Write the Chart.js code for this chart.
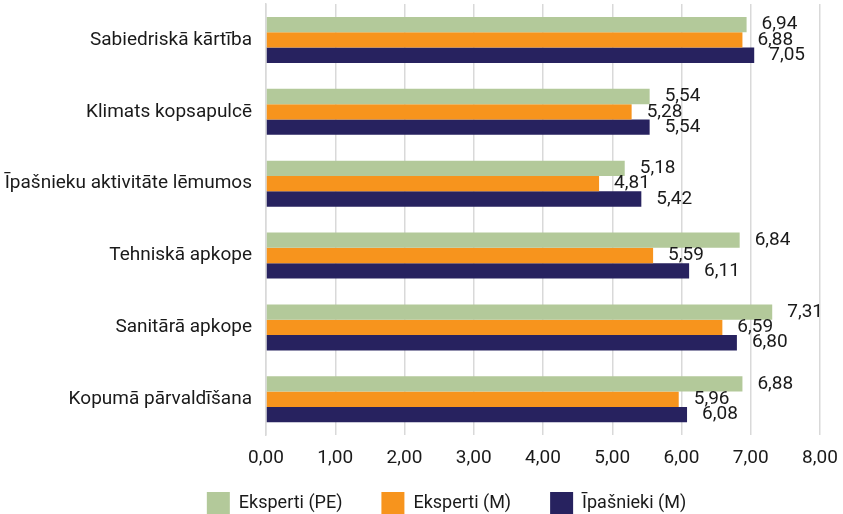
<!DOCTYPE html>
<html>
<head>
<meta charset="utf-8">
<script src="https://cdn.jsdelivr.net/npm/chart.js@4"></script>
<style>
  html, body { margin: 0; padding: 0; background: #fff; }
  #wrap { width: 843px; height: 514px; }
</style>
</head>
<body>
<div id="wrap"><canvas id="chart"></canvas></div>
<script>
const categories = [
  "Sabiedriskā kārtība",
  "Klimats kopsapulcē",
  "Īpašnieku aktivitāte lēmumos",
  "Tehniskā apkope",
  "Sanitārā apkope",
  "Kopumā pārvaldīšana"
];
const seriesNames = ["Eksperti (PE)", "Eksperti (M)", "Īpašnieki (M)"];
const expertsPE = [6.94, 5.54, 5.18, 6.84, 7.31, 6.88];
const expertsM = [6.88, 5.28, 4.81, 5.59, 6.59, 5.96];
const ownersM = [7.05, 5.54, 5.42, 6.11, 6.80, 6.08];
const colors = ["#b3c99a", "#f7941d", "#27225f"];
const xTicks = [0, 1, 2, 3, 4, 5, 6, 7, 8];

const fmt = v => v.toFixed(2).replace(".", ",");
const FONT = "Roboto";
const SIZE = 19;
const TEXT = "#1a1a1a";

const tweaks = {
  id: "tweaks",
  beforeLayout(chart) {
    // legend: wide spacing between items but a compact height
    const lg = chart.legend;
    if (lg && !lg._fixed) {
      const fit = lg.fit;
      lg.fit = function () { fit.call(this); this.height = 32; };
      lg._fixed = true;
    }
  },
  afterLayout(chart) {
    // let the legend box reach up so the row sits 23px above the bottom,
    // and nudge it a bit to the right like the original
    const lg = chart.legend;
    lg.top = lg.bottom - 61;
    lg.height = 61;
    lg.left += 25;
    lg.right += 25;
  },
  // value labels to the right of each bar
  afterDatasetsDraw(chart) {
    const ctx = chart.ctx;
    ctx.save();
    ctx.font = SIZE + "px " + FONT;
    ctx.fillStyle = TEXT;
    ctx.textAlign = "left";
    ctx.textBaseline = "middle";
    chart.data.datasets.forEach((ds, i) => {
      chart.getDatasetMeta(i).data.forEach((bar, j) => {
        ctx.fillText(fmt(ds.data[j]), bar.x + 15, bar.y);
      });
    });
    ctx.restore();
  }
};

new Chart(document.getElementById("chart"), {
  type: "bar",
  data: {
    labels: categories,
    datasets: [
      { label: seriesNames[0], data: expertsPE, backgroundColor: colors[0] },
      { label: seriesNames[1], data: expertsM, backgroundColor: colors[1] },
      { label: seriesNames[2], data: ownersM, backgroundColor: colors[2] }
    ]
  },
  options: {
    indexAxis: "y",
    responsive: true,
    maintainAspectRatio: false,
    animation: false,
    layout: { padding: { top: 4, right: 0, left: 0, bottom: 0 } },
    datasets: { bar: { categoryPercentage: 0.64, barPercentage: 1.0 } },
    plugins: {
      legend: {
        position: "bottom",
        labels: {
          boxWidth: 23,
          boxHeight: 22,
          padding: 39,
          color: TEXT,
          font: { family: FONT, size: 18 }
        }
      },
      tooltip: { enabled: false }
    },
    scales: {
      x: {
        min: 0,
        max: 8,
        afterBuildTicks: axis => { axis.ticks = xTicks.map(v => ({ value: v })); },
        afterFit: axis => { axis.paddingRight = 23; },
        ticks: {
          callback: v => fmt(v),
          color: TEXT,
          padding: 12,
          font: { family: FONT, size: SIZE }
        },
        grid: { color: "#d9d9d9", lineWidth: 1.5, drawTicks: false },
        border: { display: false }
      },
      y: {
        afterFit: axis => {
          axis.paddingTop = 0;
          axis.paddingBottom = 0;
          axis.width = 266;
        },
        ticks: {
          color: TEXT,
          padding: 14,
          font: { family: FONT, size: SIZE }
        },
        grid: { display: false, drawTicks: false },
        border: { display: true, color: "#d9d9d9", width: 1.5 }
      }
    }
  },
  plugins: [tweaks]
});
</script>
</body>
</html>
